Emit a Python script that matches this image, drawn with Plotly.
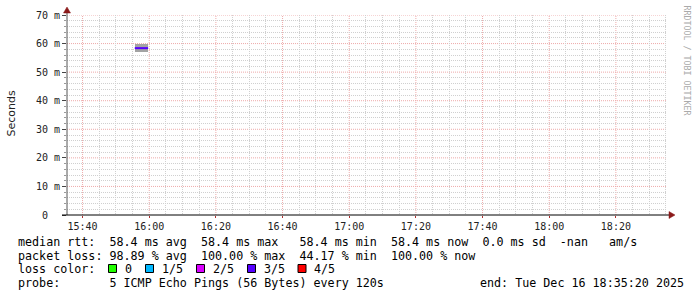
import plotly.graph_objects as go
import pandas as pd

# ---------------- data ----------------
range_start = "2025-12-16 15:35:20"
range_end = "2025-12-16 18:35:20"
step_start = ["2025-12-16 15:55:40"]
step_end = ["2025-12-16 15:59:40"]
median_ms = [58.4]
smoke_low_ms = [57.2]
smoke_high_ms = [59.9]

y_tick_values = [0, 10, 20, 30, 40, 50, 60, 70]
y_tick_labels = ["0\u00a0\u00a0", "10 m", "20 m", "30 m", "40 m", "50 m", "60 m", "70 m"]

legend_lines = [
    "median rtt:  58.4 ms avg  58.4 ms max   58.4 ms min  58.4 ms now  0.0 ms sd  -nan   am/s",
    "packet loss: 98.89 % avg  100.00 % max  44.17 % min  100.00 % now",
]
loss_labels = ["0", "1/5", "2/5", "3/5", "4/5"]
loss_colors = ["#22ff00", "#00b8ff", "#d900ff", "#5500ff", "#ff0000"]
probe_text = "probe:       5 ICMP Echo Pings (56 Bytes) every 120s"
end_text = "end: Tue Dec 16 18:35:20 2025"
y_title = "Seconds"
watermark = "RRDTOOL / TOBI OETIKER"
median_color = loss_colors[3]

# ---------------- geometry helpers (pixel -> paper) ----------------
W, H = 697, 297
L, R, T, B = 67, 30, 15, 82
PW, PH = W - L - R, H - T - B


def px(x):
    return (x - L) / PW


def py(y):
    return (H - B - y) / PH


MONO = "DejaVu Sans Mono"
nb = lambda s: s.replace(" ", "\u00a0")

# grid positions
grid_times = pd.date_range("2025-12-16 15:35:00", "2025-12-16 18:40:00", freq="5min")
major_x = [t for t in grid_times if t.minute % 20 == 0
           and pd.Timestamp(range_start) <= t <= pd.Timestamp(range_end)]
minor_x = [t for t in grid_times if t.minute % 20 != 0]
minor_y = [v for v in range(0, 71, 2) if v % 10 != 0]

fig = go.Figure()

# smoke band
starts = pd.to_datetime(step_start)
ends = pd.to_datetime(step_end)
mids = starts + (ends - starts) / 2
widths = [(e - s).total_seconds() * 1000 for s, e in zip(starts, ends)]
fig.add_trace(go.Bar(
    x=mids, y=[h - l for h, l in zip(smoke_high_ms, smoke_low_ms)], base=smoke_low_ms,
    width=widths, marker=dict(color="#a3a3a3", line=dict(width=0)), showlegend=False,
    hoverinfo="skip",
))
# median line
for s, e, m in zip(starts, ends, median_ms):
    fig.add_trace(go.Scatter(
        x=[s, e], y=[m, m], mode="lines", line=dict(color=median_color, width=2),
        showlegend=False, hoverinfo="skip",
    ))

grid_major = "#eeaaaa"
grid_minor = "#d0d0d0"

fig.update_layout(
    width=W, height=H, autosize=False,
    margin=dict(l=L, r=R, t=T, b=B, pad=0),
    paper_bgcolor="white", plot_bgcolor="white",
    bargap=0,
    xaxis=dict(
        type="date", range=[range_start, range_end], automargin=False,
        dtick=20 * 60 * 1000, tickformat="%H:%M",
        showgrid=False,
        minor=dict(tickmode="array", tickvals=minor_x, showgrid=True, gridcolor=grid_minor,
                   griddash="1px,1px", gridwidth=1),
        ticks="outside", ticklen=2, tickcolor="#b03030",
        tickfont=dict(family=MONO, size=10, color="#222"),
        showline=False, zeroline=False, fixedrange=True,
    ),
    yaxis=dict(
        range=[0, 70], tickvals=y_tick_values, ticktext=y_tick_labels, automargin=False,
        showgrid=False,
        minor=dict(tickmode="array", tickvals=minor_y, showgrid=True, gridcolor=grid_minor,
                   griddash="1px,1px", gridwidth=1, ticks="outside", ticklen=2, tickcolor="#999"),
        ticks="outside", ticklen=4, tickcolor="#444",
        tickfont=dict(family=MONO, size=10, color="#222"),
        showline=False, zeroline=False, fixedrange=True,
    ),
)

shapes = []
# major grid lines (red dotted)
for t in major_x:
    shapes.append(dict(type="line", xref="x", yref="y", x0=t, x1=t, y0=0, y1=70,
                       line=dict(color=grid_major, width=1, dash="1px,1px"), layer="below"))
for v in y_tick_values[1:]:
    shapes.append(dict(type="line", xref="x", yref="y", x0=range_start, x1=range_end, y0=v, y1=v,
                       line=dict(color=grid_major, width=1, dash="1px,1px"), layer="below"))
# axis lines
shapes.append(dict(type="line", xref="paper", yref="paper", x0=px(67), x1=px(67),
                   y0=py(10), y1=py(215), line=dict(color="#555", width=1), layer="above"))
shapes.append(dict(type="line", xref="paper", yref="paper", x0=px(62), x1=px(671),
                   y0=py(215), y1=py(215), line=dict(color="#000", width=1), layer="above"))
# arrows
arrow_col = "#8b1a1a"
shapes.append(dict(type="path", xref="paper", yref="paper",
                   path=f"M {px(67)} {py(7)} L {px(63.5)} {py(13)} L {px(70.5)} {py(13)} Z",
                   fillcolor=arrow_col, line=dict(color=arrow_col, width=0.5), layer="above"))
shapes.append(dict(type="path", xref="paper", yref="paper",
                   path=f"M {px(675)} {py(215)} L {px(669)} {py(211.5)} L {px(669)} {py(218.5)} Z",
                   fillcolor=arrow_col, line=dict(color=arrow_col, width=0.5), layer="above"))

annotations = []
line_y = [241.5, 255.5, 269, 283]
for i, txt in enumerate(legend_lines):
    annotations.append(dict(text=nb(txt), xref="paper", yref="paper", x=px(16), y=py(line_y[i]),
                            xanchor="left", yanchor="middle", showarrow=False,
                            font=dict(family=MONO, size=11.7, color="#000")))
annotations.append(dict(text=nb("loss color:"), xref="paper", yref="paper", x=px(16), y=py(line_y[2]),
                        xanchor="left", yanchor="middle", showarrow=False,
                        font=dict(family=MONO, size=11.7, color="#000")))
box_x = [108.5, 145.5, 196.5, 247.5, 298]
for bx, lab, col in zip(box_x, loss_labels, loss_colors):
    shapes.append(dict(type="rect", xref="paper", yref="paper", x0=px(bx), x1=px(bx + 8),
                       y0=py(264.5), y1=py(272.5), fillcolor=col, line=dict(color="#000", width=1)))
    annotations.append(dict(text=lab, xref="paper", yref="paper", x=px(bx + 14), y=py(line_y[2]),
                            xanchor="left", yanchor="middle", showarrow=False,
                            font=dict(family=MONO, size=11.7, color="#000")))
annotations.append(dict(text=nb(probe_text), xref="paper", yref="paper", x=px(16), y=py(line_y[3]),
                        xanchor="left", yanchor="middle", showarrow=False,
                        font=dict(family=MONO, size=11.7, color="#000")))
annotations.append(dict(text=nb(end_text), xref="paper", yref="paper", x=px(478), y=py(line_y[3]),
                        xanchor="left", yanchor="middle", showarrow=False,
                        font=dict(family=MONO, size=11.7, color="#000")))
annotations.append(dict(text=y_title, xref="paper", yref="paper", x=px(11), y=py(113.5),
                        textangle=-90, xanchor="center", yanchor="middle", showarrow=False,
                        font=dict(family="DejaVu Sans", size=11, color="#222")))
annotations.append(dict(text=nb(watermark), xref="paper", yref="paper",
                        x=px(686.5), y=py(60), textangle=90, xanchor="center", yanchor="middle",
                        showarrow=False, font=dict(family=MONO, size=8.3, color="#aaa")))

fig.update_layout(shapes=shapes, annotations=annotations)
fig.write_html("out.html", post_script="document.body.style.margin='0';")
